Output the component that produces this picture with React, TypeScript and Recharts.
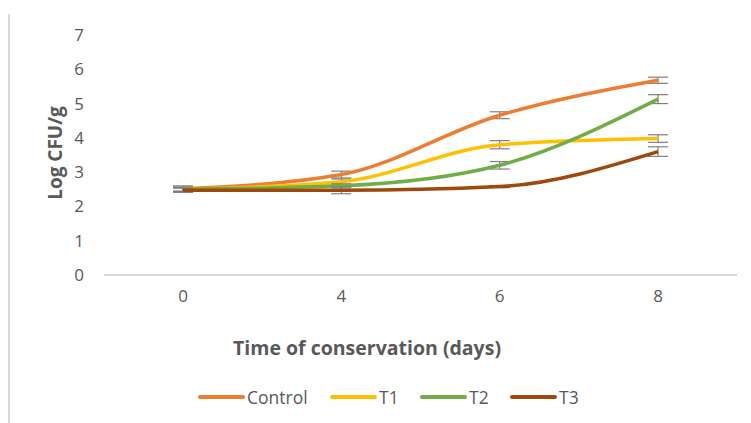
import { LineChart, Line, XAxis, YAxis, ErrorBar } from 'recharts';

const days = ['0', '4', '6', '8'];
const control = [2.52, 2.93, 4.66, 5.68];
const t1 = [2.5, 2.72, 3.8, 3.98];
const t2 = [2.5, 2.6, 3.2, 5.13];
const t3 = [2.47, 2.47, 2.58, 3.6];
const controlErr = [0.08, 0.1, 0.1, 0.09];
const t1Err = [0.06, 0.08, 0.12, 0.11];
const t2Err = [0.06, 0.06, 0.11, 0.13];
const t3Err = [0.06, 0.1, 0.03, 0.14];
const yTicks = [0, 1, 2, 3, 4, 5, 6, 7];

const data = days.map((day, i) => ({
  day,
  Control: control[i],
  T1: t1[i],
  T2: t2[i],
  T3: t3[i],
  controlErr: controlErr[i],
  t1Err: t1Err[i],
  t2Err: t2Err[i],
  t3Err: t3Err[i],
}));

const series = [
  { key: 'Control', err: 'controlErr', color: '#ED7D31', x: 198 },
  { key: 'T1', err: 't1Err', color: '#FFC000', x: 330 },
  { key: 'T2', err: 't2Err', color: '#70AD47', x: 420 },
  { key: 'T3', err: 't3Err', color: '#9E480E', x: 510 },
];

const font = '"Open Sans", sans-serif';
const textGrey = '#595959';

export default function App() {
  return (
    <div style={{ position: 'absolute', left: 0, top: 0, width: 751, height: 423, background: '#fff', fontFamily: font }}>
      <div style={{ position: 'absolute', left: 8, top: 14, width: 2, height: 409, background: '#d9d9d9' }} />
      <LineChart
        width={751}
        height={423}
        data={data}
        margin={{ top: 35, right: 14, bottom: 108, left: 0 }}
      >
        <XAxis
          dataKey="day"
          axisLine={{ stroke: '#d9d9d9', strokeWidth: 2 }}
          tickLine={false}
          tick={{ fill: textGrey, fontSize: 17, fontFamily: font }}
          tickMargin={9}
          padding={{ left: 79, right: 79 }}
          height={40}
        />
        <YAxis
          domain={[0, 7]}
          ticks={yTicks}
          axisLine={false}
          tickLine={false}
          tick={{ fill: textGrey, fontSize: 17, fontFamily: font }}
          tickMargin={14}
          width={104}
        />
        {series.map((s) => (
          <Line
            key={s.key}
            type="monotone"
            dataKey={s.key}
            stroke={s.color}
            strokeWidth={3.5}
            dot={false}
            activeDot={false}
            isAnimationActive={false}
          >
            <ErrorBar dataKey={s.err} width={10} stroke="#7f7f7f" strokeWidth={1.2} />
          </Line>
        ))}
      </LineChart>
      <div
        style={{
          position: 'absolute',
          left: 233,
          top: 334,
          whiteSpace: 'nowrap',
          fontWeight: 'bold',
          fontSize: 19.5,
          color: textGrey,
        }}
      >
        Time of conservation (days)
      </div>
      <div
        style={{
          position: 'absolute',
          left: 55,
          top: 153,
          transform: 'translate(-50%, -50%) rotate(-90deg)',
          whiteSpace: 'nowrap',
          fontWeight: 'bold',
          fontSize: 19,
          color: textGrey,
        }}
      >
        Log CFU/g
      </div>
      {series.map((s) => (
        <div
          key={s.key}
          style={{ position: 'absolute', left: s.x, top: 385, height: 24, display: 'flex', alignItems: 'center', whiteSpace: 'nowrap' }}
        >
          <span style={{ display: 'inline-block', width: 47, height: 4, borderRadius: 2, background: s.color, marginRight: 2 }} />
          <span style={{ fontSize: 17.5, color: textGrey }}>{s.key}</span>
        </div>
      ))}
    </div>
  );
}
